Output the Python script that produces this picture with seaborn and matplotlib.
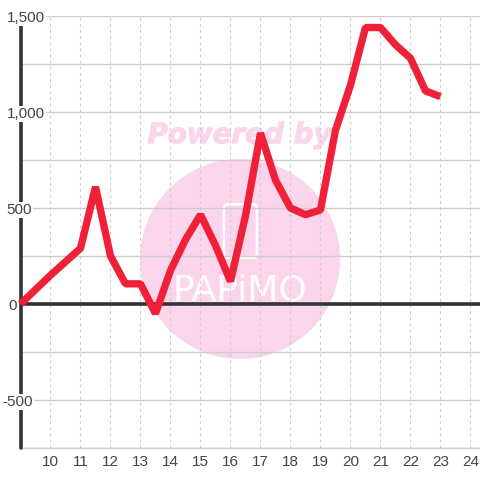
import numpy as np
import pandas as pd
import matplotlib
matplotlib.use("Agg")
import matplotlib.pyplot as plt
import matplotlib.patheffects as pe
from matplotlib.patches import Ellipse, FancyBboxPatch
from matplotlib.transforms import blended_transform_factory, ScaledTranslation
import seaborn as sns

# valores
hours = [9, 9.5, 10, 10.5, 11, 11.5, 12, 12.5, 13, 13.5, 14, 14.5, 15, 15.5, 16,
         16.5, 17, 17.5, 18, 18.5, 19, 19.5, 20, 20.5, 21, 21.5, 22, 22.5, 23]
values = [0, 75, 150, 220, 290, 610, 250, 105, 105, -50, 175, 335, 465, 305, 118,
          460, 890, 645, 500, 465, 490, 905, 1140, 1440, 1440, 1350, 1280, 1110, 1080]
x_ticks = list(range(10, 25))
y_ticks = [-500, 0, 500, 1000, 1500]
y_labels = ["-500", "0", "500", "1,000", "1,500"]
y_grid = [-750, -500, -250, 0, 250, 500, 750, 1000, 1250, 1500]

TEXT = "#444444"
GRID = "#cccccc"
DARK = "#333333"
RED = "#ef2037"
PINK = "#fbd5ec"

sns.set_theme(style="white")
plt.rcParams['font.family'] = ['Liberation Sans', 'DejaVu Sans']

df = pd.DataFrame({"hour": hours, "value": values})

fig = plt.figure(figsize=(4.8, 4.8), dpi=100)
ax = fig.add_axes([20.5 / 480, 32 / 480, 459.5 / 480, 432 / 480])
ax.set_xlim(9, 24.317)
ax.set_ylim(-750, 1500)

# marca d'agua
ax.add_patch(Ellipse((16.32, 234), 200 / 30, 200 / 96 * 500, color=PINK, lw=0, zorder=0.4))
ax.add_patch(FancyBboxPatch((15.9, 259), 0.86, 242, boxstyle="round,pad=0.12,rounding_size=0.15",
                            mutation_aspect=156, fc="none", ec="white", lw=1.8, zorder=0.45))
ax.text(16.3, 880, "Powered by", color=PINK, fontsize=20, fontweight="bold", style="italic",
        family=["DejaVu Sans"], ha="center", va="center", zorder=0.4,
        path_effects=[pe.withStroke(linewidth=0.8, foreground=PINK)])
ax.text(16.3, 70, "PAPiMO", color="white", fontsize=26, family=["DejaVu Sans"],
        ha="center", va="center", zorder=0.45)

line = sns.lineplot(data=df, x="hour", y="value", ax=ax, color=RED, linewidth=5.3, zorder=5,
                    solid_capstyle="butt", solid_joinstyle="bevel", errorbar=None).lines[0]
line.set_clip_on(False)

ax.set_xlabel("")
ax.set_ylabel("")
ax.set_axisbelow(True)
ax.set_xticks(x_ticks)
ax.set_yticks(y_grid)
ax.set_yticklabels([])
ax.grid(True, axis="y", color=GRID, lw=1.0, zorder=0.5)
ax.grid(True, axis="x", color=GRID, lw=0.8, ls=(0, (2.5, 3)), zorder=0.5)

for s in ["top", "right", "left"]:
    ax.spines[s].set_visible(False)
ax.spines["bottom"].set_color(GRID)
ax.spines["bottom"].set_linewidth(1.0)

ax.axvline(9, color=DARK, lw=2.6, zorder=3, clip_on=False)
ax.axhline(0, color=DARK, lw=2.6, zorder=3)

ax.tick_params(axis="x", length=0, pad=5, labelsize=11, labelcolor=TEXT)
ax.tick_params(axis="y", length=0)

# etiquetas do eixo y com fundo branco, por cima do eixo
trans = blended_transform_factory(fig.transFigure, ax.transData) + ScaledTranslation(0, -2 / 100, fig.dpi_scale_trans)
for v, lab in zip(y_ticks, y_labels):
    x0 = 2.5 / 480 if v == -500 else (8 / 480 if v == 0 else 6.5 / 480)
    ax.text(x0, v, lab, transform=trans, ha="left", va="center", fontsize=11, color=TEXT,
            clip_on=False, zorder=4, bbox=dict(fc="white", ec="none", pad=1))

plt.savefig("out.png", dpi=100)
